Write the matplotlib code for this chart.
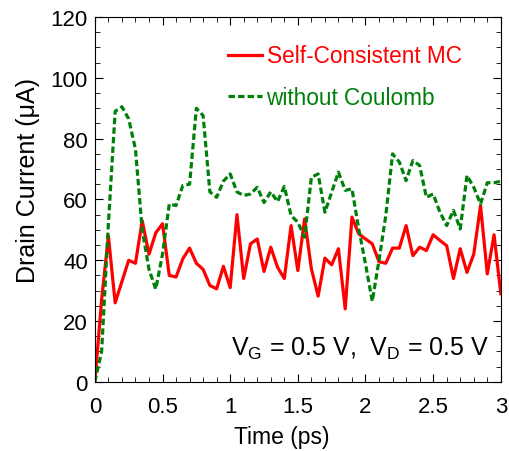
import matplotlib.pyplot as plt
from matplotlib.ticker import MultipleLocator

plt.rcParams['font.family'] = ['Liberation Sans', 'DejaVu Sans']
plt.rcParams['mathtext.default'] = 'regular'

time_ps = [0.00, 0.05, 0.10, 0.15, 0.20, 0.25, 0.30, 0.35, 0.40, 0.45,
           0.50, 0.55, 0.60, 0.65, 0.70, 0.75, 0.80, 0.85, 0.90, 0.95,
           1.00, 1.05, 1.10, 1.15, 1.20, 1.25, 1.30, 1.35, 1.40, 1.45,
           1.50, 1.55, 1.60, 1.65, 1.70, 1.75, 1.80, 1.85, 1.90, 1.95,
           2.00, 2.05, 2.10, 2.15, 2.20, 2.25, 2.30, 2.35, 2.40, 2.45,
           2.50, 2.55, 2.60, 2.65, 2.70, 2.75, 2.80, 2.85, 2.90, 2.95,
           3.00]

# drain current (uA), self-consistent Monte Carlo
self_consistent = [0, 27, 48, 26, 33, 40, 39, 53, 42, 49,
                   52, 35, 34.5, 40.5, 44, 39, 37, 31.7, 30.6, 38,
                   31, 55, 34, 45.4, 47, 36.3, 44.3, 37.7, 34, 51.4,
                   36.6, 53.6, 37.2, 28.2, 40.7, 38.5, 43.8, 24, 54.2, 48.7,
                   47, 45.4, 39.5, 39, 44, 44, 51.4, 41.5, 44.3, 43.2,
                   48.4, 46.5, 44.8, 34, 43.8, 36, 42, 58, 35.5, 48.4,
                   29]

# drain current (uA), without Coulomb interaction
no_coulomb = [0, 10, 52, 89, 90.5, 86.5, 76.5, 50, 37, 30.5,
              42, 58.5, 58, 64.6, 65, 90, 87.6, 62.5, 60.7, 66,
              68.4, 62.5, 61.3, 61.8, 64, 59, 62.5, 59.3, 64.3, 54.7,
              52.5, 47.6, 67.3, 68.4, 55.8, 62.4, 69, 63, 63.5, 50.3,
              38.8, 26.5, 40, 54.7, 75, 72.3, 66.2, 72.8, 71.2, 60.7,
              61.8, 55.8, 51.4, 56.4, 50.3, 67.9, 64, 58.5, 65.5, 65.5,
              66]

fig = plt.figure(figsize=(5.1, 4.52), dpi=100)
ax = fig.add_axes([0.186, 0.153, 0.796, 0.807])

ax.plot(time_ps, self_consistent, color='#ff0000', lw=2.3,
        label='Self-Consistent MC')
ax.plot(time_ps, no_coulomb, color='#00800a', lw=2.3, dashes=(2, 1),
        label='without Coulomb')

ax.set_xlim(0, 3)
ax.set_ylim(0, 120)
ax.xaxis.set_major_locator(MultipleLocator(0.5))
ax.xaxis.set_minor_locator(MultipleLocator(0.1))
ax.yaxis.set_major_locator(MultipleLocator(20))
ax.yaxis.set_minor_locator(MultipleLocator(5))
ax.set_xticks([0, 0.5, 1, 1.5, 2, 2.5, 3])
ax.set_xticklabels(['0', '0.5', '1', '1.5', '2', '2.5', '3'])
ax.tick_params(which='both', direction='in', top=True, right=True,
               labelsize=16)
ax.tick_params(which='major', length=6)
ax.tick_params(which='minor', length=3.5)
ax.tick_params(axis='x', pad=10)
ax.tick_params(axis='y', pad=5)

ax.set_xlabel('Time (ps)', fontsize=16.5)
ax.xaxis.set_label_coords(0.46, -0.118)
ax.set_ylabel('Drain Current (\u03bcA)', fontsize=18)
ax.yaxis.set_label_coords(-0.135, 0.556)

leg = ax.legend(loc='upper left', bbox_to_anchor=(0.328, 0.925),
                frameon=False, fontsize=16.3, handlelength=1.5,
                handletextpad=0.2, labelspacing=0.8, borderpad=0,
                borderaxespad=0)
for txt, col in zip(leg.get_texts(), ['#ff0000', '#00800a']):
    txt.set_color(col)

ax.text(0.97, 0.075, r'V$_{G}$ = 0.5 V,  V$_{D}$ = 0.5 V',
        transform=ax.transAxes, ha='right', va='baseline', fontsize=18)

fig.savefig('out.png', dpi=100)
